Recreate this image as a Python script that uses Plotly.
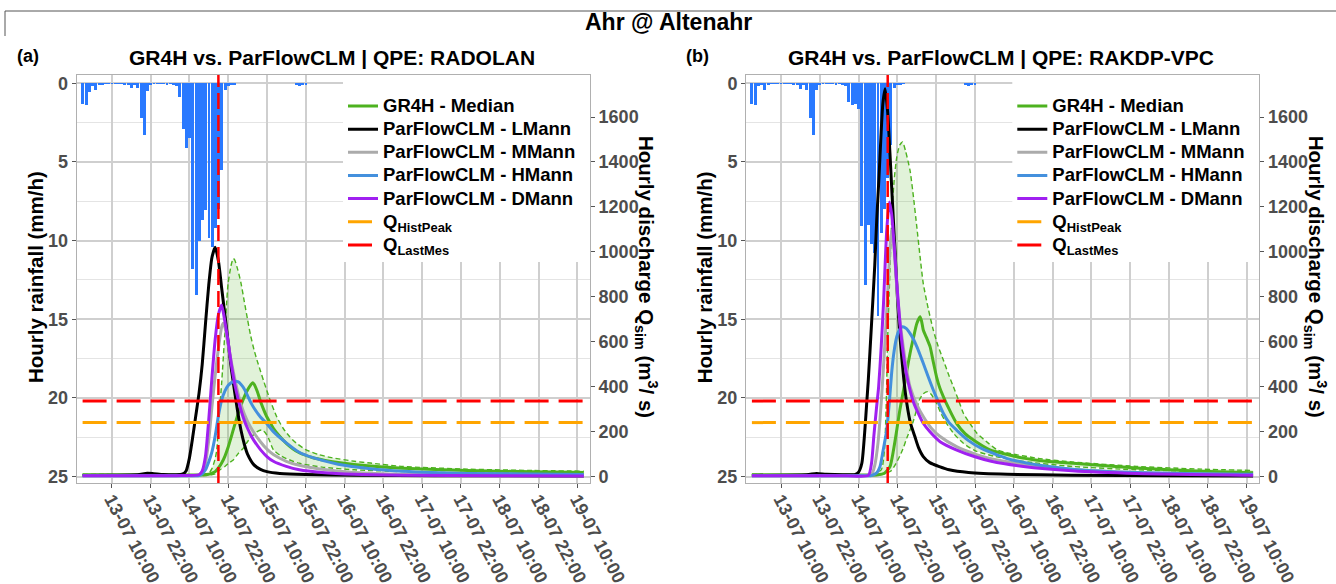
import pandas as pd
import plotly.graph_objects as go

# ---------------- data ----------------
T0 = pd.Timestamp("2021-07-13 00:00")
title_main = "Ahr @ Altenahr"
panel_titles = ["GR4H vs. ParFlowCLM | QPE: RADOLAN", "GR4H vs. ParFlowCLM | QPE: RAKDP-VPC"]
panel_tags = ["(a)", "(b)"]

tick_hours = [10, 22, 34, 46, 58, 70, 82, 94, 106, 118, 130, 142, 154]
tick_labels = ["13-07 10:00", "13-07 22:00", "14-07 10:00", "14-07 22:00", "15-07 10:00",
               "15-07 22:00", "16-07 10:00", "16-07 22:00", "17-07 10:00", "17-07 22:00",
               "18-07 10:00", "18-07 22:00", "19-07 10:00"]

q_hist_peak = 240
q_last_mes = 336
last_mes_hour = 43
first_hour, last_hour = 1, 156

rain_hours = [1, 2, 3, 4, 5, 6, 7, 8, 9, 10, 11, 12, 13, 14, 15, 16, 17, 18, 19, 20, 21, 22, 23, 24,
              25, 26, 27, 28, 29, 30, 31, 32, 33, 34, 35, 36, 37, 38, 39, 40, 41, 42, 43, 44, 45, 46,
              47, 48, 67, 68, 69, 70]
rain_a = [1.3, 1.4, 0.55, 0.15, 0.45, 0.1, 0.05, 0.03, 0.03, 0.03, 0.03, 0.03, 0.03, 0.05,
          0.1, 0.3, 0.1, 0.3, 2.2, 3.3, 0.5, 0.05, 0.02, 0.02, 0.02, 0.03, 0.08, 0.03, 0.1, 0.2,
          0.85, 2.9, 4.1, 3.45, 11.8, 13.45, 10.0, 8.7, 8.05, 9.85, 10.4, 9.2, 8.0, 5.5, 0.4, 0.15,
          0.1, 0.05, 0.1, 0.15, 0.1, 0.05]
rain_b = [1.3, 1.4, 0.2, 0.1, 0.45, 0.05, 0.03, 0.03, 0.03, 0.03, 0.03, 0.03, 0.03, 0.05,
          0.1, 0.35, 0.1, 0.4, 2.2, 3.3, 0.45, 0.05, 0.02, 0.02, 0.02, 0.03, 0.05, 0.03, 0.1, 0.15,
          1.2, 1.4, 1.3, 1.6, 9.1, 12.8, 9.0, 10.2, 10.8, 14.8, 9.5, 8.0, 6.0, 3.9, 0.3, 0.1,
          0.05, 0.03, 0.1, 0.15, 0.1, 0.05]

# ---- panel (a) RADOLAN ----
hA_G = [1, 30, 38, 40, 41, 42, 43, 44, 45, 46, 47, 48, 49, 50, 51, 52, 53, 53.6, 54, 55, 56, 57, 58,
        59, 60, 62, 64, 66, 68, 72, 76, 80, 90, 100, 120, 140, 156]
qA_G = [8, 7, 7, 10, 15, 22, 38, 60, 90, 130, 178, 228, 275, 318, 355, 385, 408, 418, 412, 380, 335,
        298, 265, 240, 215, 178, 148, 124, 106, 85, 72, 63, 47, 37, 27, 21, 18]
hA_up = [1, 38, 40, 41, 42, 42.5, 43, 44, 45, 45.6, 46, 47, 47.6, 48, 49, 50, 51, 52, 53, 54, 55, 56,
         57, 58, 59, 61, 63, 65, 67, 70, 74, 78, 85, 90, 100, 120, 140, 156]
qA_up = [10, 9, 15, 35, 80, 119, 230, 415, 640, 785, 860, 945, 970, 965, 920, 860, 780, 700, 625, 565,
         515, 470, 425, 382, 340, 267, 215, 178, 150, 120, 98, 84, 68, 60, 45, 33, 27, 24]
hA_lo = [1, 40, 42, 43.5, 45, 46, 47.6, 49, 50.7, 52, 53.8, 55, 56.4, 57.5, 58.5, 60, 62, 64, 68, 75,
         85, 100, 120, 156]
qA_lo = [6, 6, 12, 30, 45, 58, 74, 100, 126, 155, 185, 200, 207, 195, 170, 119, 95, 80, 59, 42, 30,
         22, 16, 12]
hA_L = [1, 10, 18, 21, 23, 26, 30, 32, 33, 34, 35, 36, 37, 38, 39, 40, 41, 42, 43, 44, 45, 46, 47, 48,
        49, 50, 51, 52, 54, 56, 58, 62, 70, 85, 110, 156]
qA_L = [5, 6, 8, 15, 13, 9, 8, 12, 25, 80, 170, 270, 370, 500, 680, 850, 975, 1020, 960, 840, 720,
        600, 480, 380, 285, 205, 145, 100, 52, 32, 22, 14, 9, 6, 4, 3]
hA_M = [1, 30, 37, 38, 39, 40, 41, 42, 43, 44, 44.5, 45, 46, 47, 48, 49, 50, 52, 54, 56, 58, 60, 64,
        68, 75, 85, 100, 130, 156]
qA_M = [4, 4, 6, 20, 60, 160, 310, 450, 570, 665, 682, 665, 590, 510, 440, 375, 320, 245, 195, 155,
        122, 98, 68, 50, 32, 18, 9, 5, 4]
hA_H = [1, 30, 37, 38, 39, 40, 41, 42, 43, 44, 45, 46, 47, 48, 49, 50, 51, 52, 53, 54, 56, 58, 60, 64,
        68, 72, 80, 90, 100, 120, 156]
qA_H = [4, 4, 5, 12, 30, 65, 110, 180, 270, 340, 380, 405, 418, 424, 422, 410, 390, 360, 330, 305,
        265, 235, 200, 150, 108, 85, 55, 35, 24, 14, 9]
hA_D = [1, 30, 37, 38, 39, 40, 41, 42, 43, 44, 45, 46, 47, 48, 49, 50, 51, 52, 53, 54, 56, 58, 60, 64,
        68, 75, 85, 100, 130, 156]
qA_D = [4, 4, 8, 25, 90, 250, 440, 610, 720, 763, 690, 600, 500, 415, 350, 295, 250, 215, 185, 160,
        120, 89, 68, 45, 30, 18, 10, 6, 4, 3]

# ---- panel (b) RAKDP-VPC ----
hB_G = [1, 30, 40, 42, 43.7, 44.7, 45.8, 46.8, 47.9, 48.9, 49.9, 51, 52, 53, 53.5, 54, 55, 56.1, 57.1,
        58.1, 59.1, 60.2, 62, 64.3, 67, 69.5, 74.6, 80, 84.9, 92, 100.4, 120, 140, 156]
qB_G = [8, 7, 8, 15, 44, 110, 207, 300, 385, 470, 548, 620, 681, 711, 690, 652, 618, 578, 510, 444,
        395, 356, 300, 237, 190, 163, 119, 98, 82, 68, 59, 38, 24, 17]
hB_up = [1, 38, 41, 42, 42.5, 43, 43.7, 44.3, 45, 45.8, 46.7, 47.6, 48.5, 49.9, 51, 52, 53, 54, 55.5,
         57.1, 58.6, 60.2, 61.8, 63.3, 64.9, 66.4, 68.5, 70.6, 74, 76.8, 80, 90, 100, 120, 140, 156]
qB_up = [10, 9, 30, 120, 300, 620, 919, 1170, 1320, 1422, 1475, 1489, 1450, 1363, 1240, 1111, 980,
         859, 750, 652, 580, 519, 455, 400, 340, 282, 235, 193, 150, 119, 105, 80, 65, 45, 33, 27]
hB_lo = [1, 40, 44, 46, 47.6, 49, 50.7, 52, 52.8, 54, 55.4, 56.5, 58.1, 59.5, 61.2, 63.5, 66.4, 70,
         76, 85, 100, 120, 156]
qB_lo = [6, 6, 25, 70, 119, 175, 237, 300, 341, 368, 378, 365, 326, 280, 237, 190, 148, 115, 90, 67,
         45, 30, 18]
hB_L = [1, 18, 21, 24, 30, 33, 34, 35, 36, 36.5, 37, 38, 39, 39.6, 40.3, 40.9, 41.5, 42.2, 43, 43.7,
        44.5, 45.3, 46, 46.8, 48, 48.9, 50, 51.4, 52.5, 54, 56, 59, 62, 68, 80, 100, 130, 156]
qB_L = [5, 8, 14, 10, 8, 10, 20, 59, 220, 326, 430, 680, 940, 1141, 1330, 1511, 1660, 1726, 1620,
        1437, 1210, 993, 800, 622, 430, 326, 240, 178, 130, 89, 62, 44, 30, 18, 10, 6, 4, 3]
hB_M = [1, 30, 38, 39, 40, 41, 42, 43, 43.8, 44.3, 44.8, 45.8, 46.8, 47.8, 48.8, 49.9, 52, 54, 56.5,
        59.2, 64.3, 70, 74.6, 85, 100, 120, 156]
qB_M = [4, 4, 10, 50, 150, 330, 560, 820, 1040, 1096, 1050, 844, 690, 578, 480, 400, 320, 267, 215,
        178, 133, 100, 81, 55, 33, 18, 8]
hB_H = [1, 30, 38, 39.5, 40.6, 41.5, 42.7, 43.5, 44.3, 45, 45.8, 46.7, 47.6, 48.8, 49.9, 51, 52, 53,
        54, 55.5, 57.1, 58.7, 60.2, 62, 64.3, 68, 72, 80, 90, 100, 120, 156]
qB_H = [4, 4, 5, 15, 44, 110, 207, 330, 474, 560, 622, 655, 667, 658, 637, 610, 578, 542, 504, 445,
        385, 330, 282, 240, 207, 160, 125, 80, 50, 33, 18, 10]
hB_D = [1, 30, 37, 38, 38.7, 39.5, 40.2, 41, 41.7, 42.7, 43.5, 44.2, 44.8, 45.5, 46.3, 47, 47.8, 48.8,
        49.9, 51, 52.5, 54, 56, 59.2, 64, 70, 75, 85, 100, 120, 156]
qB_D = [4, 4, 5, 60, 178, 300, 400, 580, 770, 1096, 1222, 1170, 1067, 920, 770, 650, 548, 455, 385,
        330, 280, 237, 200, 155, 120, 88, 68, 45, 26, 14, 6]

# ---------------- styling ----------------
W, H = 1336, 584
FONT = "Liberation Sans, Arial, Helvetica, sans-serif"
C_GREEN = "#4DB21F"
C_FILL = "rgba(77,178,31,0.17)"
C_BLACK = "#000000"
C_GREY = "#ABABAB"
C_BLUE = "#4490DD"
C_PURPLE = "#A020F0"
C_ORANGE = "#FFA500"
C_RED = "#FF0000"
C_RAIN = "#2979FF"
RAIN_FACTOR = 70.0          # discharge = (25 - rain) * 70
RAIN_RANGE = [25.41, -0.53]
Q_RANGE = [(25 - RAIN_RANGE[0]) * RAIN_FACTOR, (25 - RAIN_RANGE[1]) * RAIN_FACTOR]
X_RANGE_H = [-0.824, 157.92]
PX_PER_H = 3.2336


def T(hours):
    return [T0 + pd.Timedelta(seconds=round(float(h) * 3600)) for h in hours]


def px_x(p):
    return p / W


def px_y(p):
    return (H - p) / H


def leg_name(s):
    return "<span style='font-size:18.5px'>" + s + "</span>"


fig = go.Figure()

panels = [
    dict(rain=rain_a, G=(hA_G, qA_G), up=(hA_up, qA_up), lo=(hA_lo, qA_lo), L=(hA_L, qA_L),
         M=(hA_M, qA_M), Hm=(hA_H, qA_H), D=(hA_D, qA_D), xa="x", ya="y", yq="y2", leg="legend"),
    dict(rain=rain_b, G=(hB_G, qB_G), up=(hB_up, qB_up), lo=(hB_lo, qB_lo), L=(hB_L, qB_L),
         M=(hB_M, qB_M), Hm=(hB_H, qB_H), D=(hB_D, qB_D), xa="x2", ya="y3", yq="y4", leg="legend2"),
]

for p in panels:
    xa, ya, yq, leg = p["xa"], p["ya"], p["yq"], p["leg"]
    fig.add_trace(go.Bar(x=T(rain_hours), y=p["rain"], xaxis=xa, yaxis=ya, marker_color=C_RAIN,
                         marker_line_width=0, width=3600000 * 0.9, showlegend=False))
    hu, qu = p["up"]
    hl, ql = p["lo"]
    fig.add_trace(go.Scatter(x=T(hu + hl[::-1]), y=qu + ql[::-1], xaxis=xa, yaxis=yq, fill="toself",
                             fillcolor=C_FILL, mode="lines", line=dict(width=0, shape="spline",
                             smoothing=0.6), showlegend=False, hoverinfo="skip"))
    for hh, qq in (p["up"], p["lo"]):
        fig.add_trace(go.Scatter(x=T(hh), y=qq, xaxis=xa, yaxis=yq, mode="lines", showlegend=False,
                                 line=dict(color=C_GREEN, width=1.4, dash="5px,3px", shape="spline",
                                           smoothing=0.6)))
    series = [("GR4H - Median", p["G"], C_GREEN), ("ParFlowCLM - LMann", p["L"], C_BLACK),
              ("ParFlowCLM - MMann", p["M"], C_GREY), ("ParFlowCLM - HMann", p["Hm"], C_BLUE),
              ("ParFlowCLM - DMann", p["D"], C_PURPLE)]
    for name, (hh, qq), col in series:
        fig.add_trace(go.Scatter(x=T(hh), y=qq, xaxis=xa, yaxis=yq, mode="lines", name=leg_name(name),
                                 legend=leg, line=dict(color=col, width=3, shape="spline",
                                                       smoothing=0.6)))
    fig.add_trace(go.Scatter(x=T([first_hour, last_hour]), y=[q_hist_peak, q_hist_peak], xaxis=xa,
                             yaxis=yq, mode="lines", name=leg_name("Q<sub>HistPeak</sub>"), legend=leg,
                             line=dict(color=C_ORANGE, width=3, dash="24px,10px")))
    fig.add_trace(go.Scatter(x=T([first_hour, last_hour]), y=[q_last_mes, q_last_mes], xaxis=xa,
                             yaxis=yq, mode="lines", name=leg_name("Q<sub>LastMes</sub>"), legend=leg,
                             line=dict(color=C_RED, width=3, dash="24px,10px")))
    fig.add_trace(go.Scatter(x=T([last_mes_hour, last_mes_hour]), y=Q_RANGE, xaxis=xa, yaxis=yq,
                             mode="lines", showlegend=False,
                             line=dict(color=C_RED, width=2.5, dash="16px,6px")))

# ---------------- layout ----------------
x_range = T(X_RANGE_H)
ydom = [px_y(483), px_y(75)]
xdoms = [[px_x(76.7), px_x(590)], [px_x(746), px_x(1259.3)]]
tickfont = dict(family=FONT, size=18, color="#4D4D4D", weight="bold")
grid_major = "#CFCFCF"
line_col = "#B0B0B0"


def xaxis_cfg(dom, anchor):
    return dict(domain=dom, anchor=anchor, type="date", range=x_range, tickvals=T(tick_hours),
                ticktext=tick_labels, tickangle=62, tickfont=tickfont, showgrid=True,
                gridcolor=grid_major, gridwidth=1.5, ticks="outside", ticklen=4, tickcolor="#555",
                ticklabelstandoff=-6,
                showline=True, linecolor=line_col, linewidth=1, mirror=True, zeroline=False,
                automargin=False)


def yrain_cfg(anchor):
    return dict(domain=ydom, anchor=anchor, range=RAIN_RANGE, tickvals=[0, 5, 10, 15, 20, 25],
                tickfont=tickfont, showgrid=True, gridcolor=grid_major, gridwidth=1.5,
                minor=dict(tickvals=[2.5, 7.5, 12.5, 17.5, 22.5], showgrid=True,
                           gridcolor="#E4E4E4", gridwidth=1.2),
                ticks="outside", ticklen=4, tickcolor="#555", showline=True, linecolor=line_col,
                linewidth=1, mirror=True, zeroline=False, automargin=False)


def yq_cfg(anchor, overlay):
    return dict(anchor=anchor, overlaying=overlay, side="right", range=Q_RANGE,
                tickvals=[0, 200, 400, 600, 800, 1000, 1200, 1400, 1600], tickfont=tickfont,
                showgrid=False, ticks="outside", ticklen=4, tickcolor="#555", zeroline=False,
                showline=False, automargin=False)


legend_common = dict(xanchor="left", yanchor="top", bgcolor="rgba(0,0,0,0)", borderwidth=0,
                     font=dict(family=FONT, size=15.5, color="black", weight="bold"),
                     tracegroupgap=0, itemwidth=30)

annotations = [dict(text="<b>" + title_main + "</b>", x=0.5, y=px_y(22), xref="paper", yref="paper",
                    xanchor="center", yanchor="middle", showarrow=False,
                    font=dict(family=FONT, size=23, color="black"))]
for i, off in enumerate([0, 669.3]):
    annotations += [
        dict(text="<b>" + panel_tags[i] + "</b>", x=px_x(15 + off), y=px_y(56), xref="paper",
             yref="paper", xanchor="left", yanchor="middle", showarrow=False,
             font=dict(family=FONT, size=18, color="black")),
        dict(text="<b>" + panel_titles[i] + "</b>", x=px_x(332 + off), y=px_y(58), xref="paper",
             yref="paper", xanchor="center", yanchor="middle", showarrow=False,
             font=dict(family=FONT, size=21, color="black")),
        dict(text="<b>Hourly rainfall (mm/h)</b>", x=px_x(35 + off), y=px_y(277), xref="paper",
             yref="paper", xanchor="center", yanchor="middle", textangle=-90, showarrow=False,
             font=dict(family=FONT, size=20.5, color="black")),
        dict(text="<b>Hourly discharge Q<sub>sim</sub> (m<sup>3</sup>/ s)</b>", x=px_x(647 + off),
             y=px_y(277), xref="paper", yref="paper", xanchor="center", yanchor="middle",
             textangle=90, showarrow=False, font=dict(family=FONT, size=20.5, color="black")),
    ]

# white boxes behind the legends (cover gridlines, not data)
box_left_h = 10 + (343 - 111.7) / PX_PER_H
box_bottom_rain = (262 - 83.3) / 15.736
legend_boxes = []
for xr, yr in (("x", "y"), ("x2", "y3")):
    legend_boxes.append(dict(type="rect", xref=xr, yref=yr,
                             x0=T([box_left_h])[0], x1=x_range[1],
                             y0=box_bottom_rain, y1=RAIN_RANGE[1], layer="between",
                             fillcolor="white", line=dict(width=0)))

fig.update_layout(
    width=W, height=H, autosize=False, template="none",
    margin=dict(l=0, r=0, t=0, b=0, pad=0),
    paper_bgcolor="white", plot_bgcolor="white", barmode="overlay", bargap=0,
    font=dict(family=FONT),
    xaxis=xaxis_cfg(xdoms[0], "y"), xaxis2=xaxis_cfg(xdoms[1], "y3"),
    yaxis=yrain_cfg("x"), yaxis2=yq_cfg("x", "y"),
    yaxis3=yrain_cfg("x2"), yaxis4=yq_cfg("x2", "y3"),
    legend=dict(x=px_x(343), y=px_y(89.4), **legend_common),
    legend2=dict(x=px_x(343 + 669.3), y=px_y(89.4), **legend_common),
    annotations=annotations,
    shapes=legend_boxes + [
        dict(type="line", xref="paper", yref="paper", x0=px_x(5), x1=1, y0=px_y(11),
             y1=px_y(11), line=dict(color="#555", width=1)),
        dict(type="line", xref="paper", yref="paper", x0=px_x(5), x1=px_x(5), y0=px_y(11),
             y1=px_y(36), line=dict(color="#555", width=1))],
    showlegend=True,
)

fig.write_html("out.html")
